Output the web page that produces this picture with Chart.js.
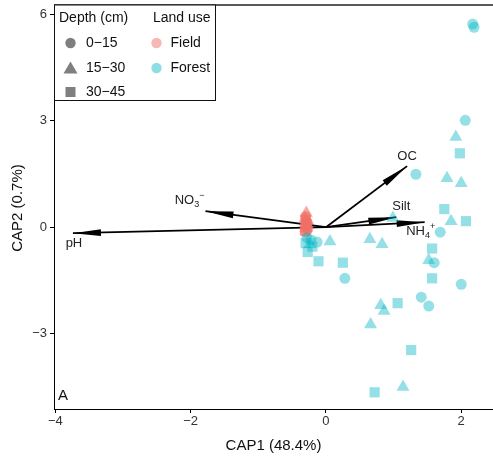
<!DOCTYPE html>
<html>
<head>
<meta charset="utf-8">
<script src="https://cdn.jsdelivr.net/npm/chart.js@4.4.1/dist/chart.umd.min.js"></script>
<style>
  html, body { margin: 0; padding: 0; background: #fff; }
  #wrap { width: 493px; height: 461px; position: relative; }
</style>
</head>
<body>
<div id="wrap"><canvas id="capChart"></canvas></div>
<script>
// CAP site scores by land use and depth
const depths = ['0\u221215', '15\u221230', '30\u221245'];
const landUses = ['Field', 'Forest'];

const forest0_15 = [[2.17, 5.72], [2.19, 5.63], [2.06, 3.01], [1.33, 1.49], [1.69, -0.14], [1.60, -1.00],
  [0.28, -1.44], [2.00, -1.61], [1.41, -1.97], [1.52, -2.22], [-0.13, -0.42], [-0.22, -0.36], [-0.28, -0.30]];
const forest15_30 = [[1.92, 2.54], [1.79, 1.38], [2.00, 1.24], [1.85, 0.17], [0.99, 0.26], [0.06, -0.40],
  [0.65, -0.34], [0.83, -0.48], [1.52, -0.93], [0.81, -2.20], [0.86, -2.36], [0.66, -2.74], [1.14, -4.50], [-0.24, -0.48]];
const forest30_45 = [[1.98, 2.08], [1.75, 0.51], [2.07, 0.17], [1.57, -0.60], [1.57, -1.44], [0.25, -1.00],
  [-0.11, -0.96], [-0.27, -0.70], [1.06, -2.14], [1.26, -3.46], [0.72, -4.65], [-0.30, -0.45], [-0.20, -0.55]];

const field0_15 = [[-0.30, 0.30], [-0.28, 0.14], [-0.31, 0.04], [-0.27, -0.06], [-0.30, -0.14]];
const field15_30 = [[-0.29, 0.40], [-0.31, 0.24], [-0.28, 0.08], [-0.30, -0.02], [-0.27, 0.18]];
const field30_45 = [[-0.30, 0.20], [-0.28, 0.00], [-0.31, -0.10], [-0.29, 0.10]];

// environmental vectors (biplot arrows)
const vectorNames = ['pH', 'NO3', 'OC', 'Silt', 'NH4'];
const vectorX = [-3.74, -1.78, 1.20, 1.04, 1.46];
const vectorY = [-0.17, 0.45, 1.72, 0.28, 0.14];

const xTicks = [-4, -2, 0, 2];
const yTicks = [-3, 0, 3, 6];

const FONT = "'Liberation Sans', Arial, Helvetica, sans-serif";
const FIELD_COL = 'rgba(240,112,104,0.6)';
const FOREST_COL = 'rgba(0,182,196,0.42)';
const shapes = ['circle', 'triangle', 'rect'];
const radii = [5.5, 7.5, 7.2];

const toXY = arr => arr.map(p => ({ x: p[0], y: p[1] }));
const fmt = v => (v < 0 ? '\u2212' + Math.abs(v) : String(v));

// label pieces and pixel offsets from arrow tip
const vectorLabels = {
  pH:   { parts: [['pH', 'n']], dx: 1, dy: 10 },
  NO3:  { parts: [['NO', 'n'], ['3', 'sub'], ['\u2212', 'sup']], dx: -16, dy: -11 },
  OC:   { parts: [['OC', 'n']], dx: 0, dy: -10 },
  Silt: { parts: [['Silt', 'n']], dx: 5, dy: -11 },
  NH4:  { parts: [['NH', 'n'], ['4', 'sub'], ['+', 'sup']], dx: -4, dy: 9 }
};

const datasets = [];
[forest0_15, forest15_30, forest30_45].forEach((d, i) => {
  datasets.push({
    label: 'Forest ' + depths[i], data: toXY(d), order: 1,
    pointStyle: shapes[i], pointRadius: radii[i], pointHoverRadius: radii[i],
    backgroundColor: FOREST_COL, borderWidth: 0, showLine: false
  });
});
[field0_15, field15_30, field30_45].forEach((d, i) => {
  datasets.push({
    label: 'Field ' + depths[i], data: toXY(d), order: 2,
    pointStyle: shapes[i], pointRadius: radii[i], pointHoverRadius: radii[i],
    backgroundColor: FIELD_COL, borderWidth: 0, showLine: false
  });
});
vectorNames.forEach((n, i) => {
  datasets.push({
    label: n, isVector: true, data: [{ x: 0, y: 0 }, { x: vectorX[i], y: vectorY[i] }], order: 3,
    showLine: true, borderColor: '#000', borderWidth: 1.8, pointRadius: 0, pointHoverRadius: 0, fill: false
  });
});

function drawChem(ctx, parts, cx, cy) {
  const big = '13px ' + FONT, small = '9px ' + FONT;
  let w = 0;
  parts.forEach(([t, k]) => { ctx.font = k === 'n' ? big : small; w += ctx.measureText(t).width; });
  let x = cx - w / 2;
  ctx.textAlign = 'left';
  ctx.textBaseline = 'middle';
  parts.forEach(([t, k]) => {
    ctx.font = k === 'n' ? big : small;
    const yy = k === 'sub' ? cy + 4 : (k === 'sup' ? cy - 5 : cy);
    ctx.fillText(t, x, yy);
    x += ctx.measureText(t).width;
  });
}

const arrowPlugin = {
  id: 'arrows',
  beforeDatasetsDraw(chart) {
    const ctx = chart.ctx;
    ctx.save();
    ctx.fillStyle = '#000';
    chart.data.datasets.forEach((ds, i) => {
      if (!ds.isVector) return;
      const pts = chart.getDatasetMeta(i).data;
      const a = pts[0], b = pts[1];
      const ang = Math.atan2(b.y - a.y, b.x - a.x);
      const len = 28, hw = 3.4;
      const bx = b.x - Math.cos(ang) * len, by = b.y - Math.sin(ang) * len;
      ctx.beginPath();
      ctx.moveTo(b.x, b.y);
      ctx.lineTo(bx - Math.sin(ang) * hw, by + Math.cos(ang) * hw);
      ctx.lineTo(bx + Math.sin(ang) * hw, by - Math.cos(ang) * hw);
      ctx.closePath();
      ctx.fill();
    });
    ctx.restore();
  },
  afterDatasetsDraw(chart) {
    const ctx = chart.ctx;
    ctx.save();
    ctx.fillStyle = '#222';
    chart.data.datasets.forEach((ds, i) => {
      if (!ds.isVector) return;
      const tip = chart.getDatasetMeta(i).data[1];
      const lab = vectorLabels[ds.label];
      drawChem(ctx, lab.parts, tip.x + lab.dx, tip.y + lab.dy);
    });
    ctx.restore();
  }
};

const legendPlugin = {
  id: 'ggLegend',
  afterDraw(chart) {
    const ctx = chart.ctx;
    const area = chart.chartArea;
    ctx.save();
    // frame line along the top
    ctx.strokeStyle = '#222';
    ctx.lineWidth = 1.5;
    ctx.beginPath();
    ctx.moveTo(area.left, 5);
    ctx.lineTo(chart.width, 5);
    ctx.stroke();

    // legend box
    const L = area.left, T = 5, R = 215, B = 100.5;
    ctx.fillStyle = '#fff';
    ctx.fillRect(L, T, R - L, B - T);
    ctx.strokeStyle = '#111';
    ctx.lineWidth = 1;
    ctx.strokeRect(L + 0.5, T, R - L, B - T);

    ctx.fillStyle = '#111';
    ctx.font = '14px ' + FONT;
    ctx.textBaseline = 'middle';
    ctx.textAlign = 'left';
    ctx.fillText('Depth (cm)', 59, 18);
    ctx.fillText('Land use', 153, 18);

    const rows = [43, 68, 92];
    ctx.fillStyle = '#7f7f7f';
    // circle
    ctx.beginPath(); ctx.arc(70.5, rows[0], 5.2, 0, Math.PI * 2); ctx.fill();
    // triangle
    ctx.beginPath();
    ctx.moveTo(70.5, rows[1] - 6.5); ctx.lineTo(77.5, rows[1] + 5.5); ctx.lineTo(63.5, rows[1] + 5.5);
    ctx.closePath(); ctx.fill();
    // square
    ctx.fillRect(65.5, rows[2] - 5, 10, 10);

    ctx.fillStyle = '#111';
    depths.forEach((d, i) => ctx.fillText(d, 86, rows[i] + 0.5));

    const luCols = ['rgba(240,112,104,0.5)', 'rgba(0,182,196,0.45)'];
    landUses.forEach((u, i) => {
      ctx.fillStyle = luCols[i];
      ctx.beginPath(); ctx.arc(156.5, rows[i], 5.2, 0, Math.PI * 2); ctx.fill();
      ctx.fillStyle = '#111';
      ctx.fillText(u, 170.5, rows[i] + 0.5);
    });

    // panel tag
    ctx.font = '15px ' + FONT;
    ctx.fillText('A', 58, 396);
    ctx.restore();
  }
};

new Chart(document.getElementById('capChart').getContext('2d'), {
  type: 'scatter',
  data: { datasets },
  options: {
    responsive: true,
    maintainAspectRatio: false,
    animation: false,
    layout: { autoPadding: false, padding: { top: 7, right: 0, left: 0, bottom: 0 } },
    plugins: {
      legend: { display: false },
      tooltip: { enabled: false }
    },
    scales: {
      x: {
        type: 'linear', min: -4.02, max: 2.47,
        afterBuildTicks: s => { s.ticks = xTicks.map(v => ({ value: v })); },
        afterFit: s => { s.height = 52; s.paddingLeft = 0; s.paddingRight = 0; },
        grid: { display: true, drawOnChartArea: false, drawTicks: true, tickLength: 4, tickColor: '#000', tickWidth: 1 },
        border: { display: true, color: '#000', width: 1 },
        ticks: { color: '#333', font: { family: FONT, size: 13 }, padding: 1, maxRotation: 0, autoSkip: false, callback: fmt },
        title: { display: true, text: 'CAP1 (48.4%)', color: '#111', font: { family: FONT, size: 15 }, padding: { top: 0, bottom: 6 } }
      },
      y: {
        type: 'linear', min: -5.12, max: 6.2,
        afterBuildTicks: s => { s.ticks = yTicks.map(v => ({ value: v })); },
        afterFit: s => { s.width = 54; s.paddingTop = 0; s.paddingBottom = 0; },
        grid: { display: true, drawOnChartArea: false, drawTicks: true, tickLength: 4, tickColor: '#000', tickWidth: 1 },
        border: { display: true, color: '#000', width: 1 },
        ticks: { color: '#333', font: { family: FONT, size: 13 }, padding: 3, autoSkip: false, callback: fmt },
        title: { display: true, text: 'CAP2 (0.7%)', color: '#111', font: { family: FONT, size: 15 }, padding: { top: 9, bottom: 0 } }
      }
    }
  },
  plugins: [arrowPlugin, legendPlugin]
});
</script>
</body>
</html>
